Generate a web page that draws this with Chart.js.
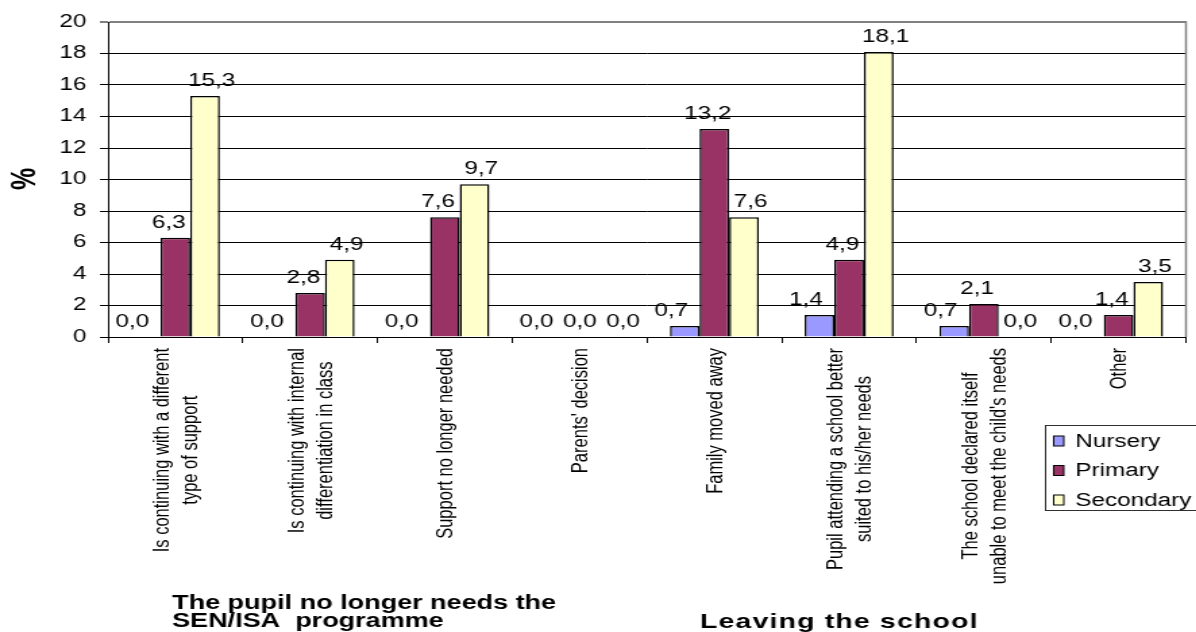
<!DOCTYPE html>
<html>
<head>
<meta charset="utf-8">
<script src="https://cdn.jsdelivr.net/npm/chart.js@4"></script>
<style>
  html, body { margin: 0; padding: 0; background: #fff; overflow: hidden; }
  #wrap { width: 1196px; height: 632px; overflow: hidden; }
  #c { display: block; transform: scaleX(1.35); transform-origin: 0 0; }
</style>
</head>
<body>
<div id="wrap"><canvas id="c" width="886" height="632" style="width:886px;height:632px"></canvas></div>
<script>
// Reasons for leaving the SEN/ISA programme, % of pupils by school level
const categories = [
  ["Is continuing with a different", "type of support"],
  ["Is continuing with internal", "differentiation in class"],
  ["Support no longer needed"],
  ["Parents' decision"],
  ["Family moved away"],
  ["Pupil attending a school better", "suited to his/her needs"],
  ["The school declared itself", "unable to meet the child's needs"],
  ["Other"]
];
const seriesNames = ["Nursery", "Primary", "Secondary"];
const nursery   = [0.0, 0.0, 0.0, 0.0, 0.7, 1.4, 0.7, 0.0];
const primary   = [6.3, 2.8, 7.6, 0.0, 13.2, 4.9, 2.1, 1.4];
const secondary = [15.3, 4.9, 9.7, 0.0, 7.6, 18.1, 0.0, 3.5];
const yTicks = [0, 2, 4, 6, 8, 10, 12, 14, 16, 18, 20];
const groupTitles = [
  ["The pupil no longer needs the", "SEN/ISA  programme"],
  ["Leaving the school"]
];

const FONT = "'Liberation Sans', Arial, sans-serif";
const colors = ["#9999FF", "#993366", "#FFFFCC"];
const labelShift = [-10, -5, 5];

const fmt = v => v.toFixed(1).replace('.', ',');

// Value labels above each bar; labels on the same line are pushed apart
const valueLabels = {
  id: 'valueLabels',
  afterDatasetsDraw(chart) {
    const ctx = chart.ctx;
    ctx.save();
    ctx.font = "18px " + FONT;
    ctx.fillStyle = "#000";
    ctx.textAlign = "center";
    ctx.textBaseline = "alphabetic";
    const nSets = chart.data.datasets.length;
    const nCats = chart.data.labels.length;
    for (let i = 0; i < nCats; i++) {
      const items = [];
      for (let di = 0; di < nSets; di++) {
        const bar = chart.getDatasetMeta(di).data[i];
        const text = fmt(chart.data.datasets[di].data[i]);
        items.push({ text, x: bar.x + labelShift[di], y: bar.y - 10, w: ctx.measureText(text).width });
      }
      for (let k = 1; k < items.length; k++) {
        const a = items[k - 1], b = items[k];
        if (Math.abs(a.y - b.y) < 14) {
          const need = (a.w + b.w) / 2 + 7;
          if (b.x - a.x < need) b.x = a.x + need;
        }
      }
      items.forEach(it => ctx.fillText(it.text, it.x, it.y));
    }
    ctx.restore();
  }
};

// Rotated category labels, frame, axis title, legend and group captions
const decorations = {
  id: 'decorations',
  afterDraw(chart) {
    const ctx = chart.ctx;
    const area = chart.chartArea;
    const xs = chart.scales.x;

    // right frame edge of the plot area
    ctx.save();
    ctx.strokeStyle = "#808080";
    ctx.lineWidth = 1.5;
    ctx.beginPath();
    ctx.moveTo(area.right, area.top - 1);
    ctx.lineTo(area.right, area.bottom);
    ctx.stroke();
    ctx.restore();

    // category labels, rotated, block centred on the category
    ctx.save();
    ctx.font = "16.5px " + FONT;
    ctx.fillStyle = "#000";
    ctx.textBaseline = "middle";
    ctx.textAlign = "center";
    const lineH = 21;
    categories.forEach((lines, i) => {
      const x = xs.getPixelForValue(i);
      const maxW = Math.max(...lines.map(l => ctx.measureText(l).width));
      ctx.save();
      ctx.translate(x + 1, area.bottom + 11);
      ctx.rotate(-Math.PI / 2);
      lines.forEach((l, k) => {
        ctx.fillText(l, -maxW / 2, (k - (lines.length - 1) / 2) * lineH);
      });
      ctx.restore();
    });
    ctx.restore();

    // y axis title
    ctx.save();
    ctx.font = "bold 25px " + FONT;
    ctx.fillStyle = "#000";
    ctx.textAlign = "center";
    ctx.textBaseline = "middle";
    ctx.translate(19.5, 179);
    ctx.rotate(-Math.PI / 2);
    ctx.fillText("%", 0, 0);
    ctx.restore();

    // legend
    ctx.save();
    const lx = 774, ly = 425, lh = 85;
    ctx.fillStyle = "#fff";
    ctx.fillRect(lx, ly, 140, lh);
    ctx.strokeStyle = "#303030";
    ctx.lineWidth = 1;
    ctx.strokeRect(lx + 0.5, ly + 0.5, 140, lh);
    ctx.font = "18px " + FONT;
    ctx.textBaseline = "middle";
    ctx.textAlign = "left";
    chart.data.datasets.forEach((ds, di) => {
      const cy = 441 + di * 29.5;
      ctx.fillStyle = ds.backgroundColor;
      ctx.fillRect(780.5, cy - 5, 7.5, 10);
      ctx.strokeStyle = "#000";
      ctx.strokeRect(780.5, cy - 5, 7.5, 10);
      ctx.fillStyle = "#000";
      ctx.fillText(ds.label, 796.5, cy + 1);
    });
    ctx.restore();

    // group captions under the categories
    ctx.save();
    ctx.fillStyle = "#000";
    ctx.textAlign = "left";
    ctx.textBaseline = "alphabetic";
    ctx.font = "bold 20px " + FONT;
    ctx.fillText(groupTitles[0][0], 127.5, 609);
    ctx.fillText(groupTitles[0][1], 127.5, 627);
    ctx.font = "bold 21px " + FONT;
    ctx.letterSpacing = "0.9px";
    ctx.fillText(groupTitles[1][0], 518.5, 628);
    ctx.restore();
  }
};

new Chart(document.getElementById('c'), {
  type: 'bar',
  data: {
    labels: categories.map(c => c.join(' ')),
    datasets: [nursery, primary, secondary].map((d, i) => ({
      label: seriesNames[i],
      data: d,
      backgroundColor: colors[i],
      borderColor: "#000",
      borderWidth: 1.5,
      borderSkipped: 'start',
      categoryPercentage: 0.66,
      barPercentage: 1.0
    }))
  },
  options: {
    responsive: false,
    animation: false,
    devicePixelRatio: 1,
    layout: { padding: { left: 0, right: 7.5, top: 22, bottom: 0 } },
    plugins: {
      legend: { display: false },
      tooltip: { enabled: false },
      title: { display: false }
    },
    scales: {
      x: {
        afterFit: s => { s.height = 295; },
        ticks: { display: false },
        grid: {
          offset: true,
          drawOnChartArea: false,
          drawTicks: true,
          tickLength: 6,
          color: "#000",
          lineWidth: 1
        },
        border: { display: true, color: "#000", width: 1 }
      },
      y: {
        min: 0,
        max: 20,
        afterFit: s => { s.width = 80; },
        afterBuildTicks: s => { s.ticks = yTicks.map(v => ({ value: v })); },
        ticks: {
          padding: 10,
          color: "#000",
          font: { family: FONT, size: 18 }
        },
        grid: {
          color: c => (c.tick && c.tick.value === 20) ? "#808080" : "#000",
          lineWidth: c => (c.tick && c.tick.value === 20) ? 2 : 1,
          tickLength: 6,
          drawTicks: true
        },
        border: { display: true, color: "#000", width: 1 }
      }
    }
  },
  plugins: [valueLabels, decorations]
});
</script>
</body>
</html>
